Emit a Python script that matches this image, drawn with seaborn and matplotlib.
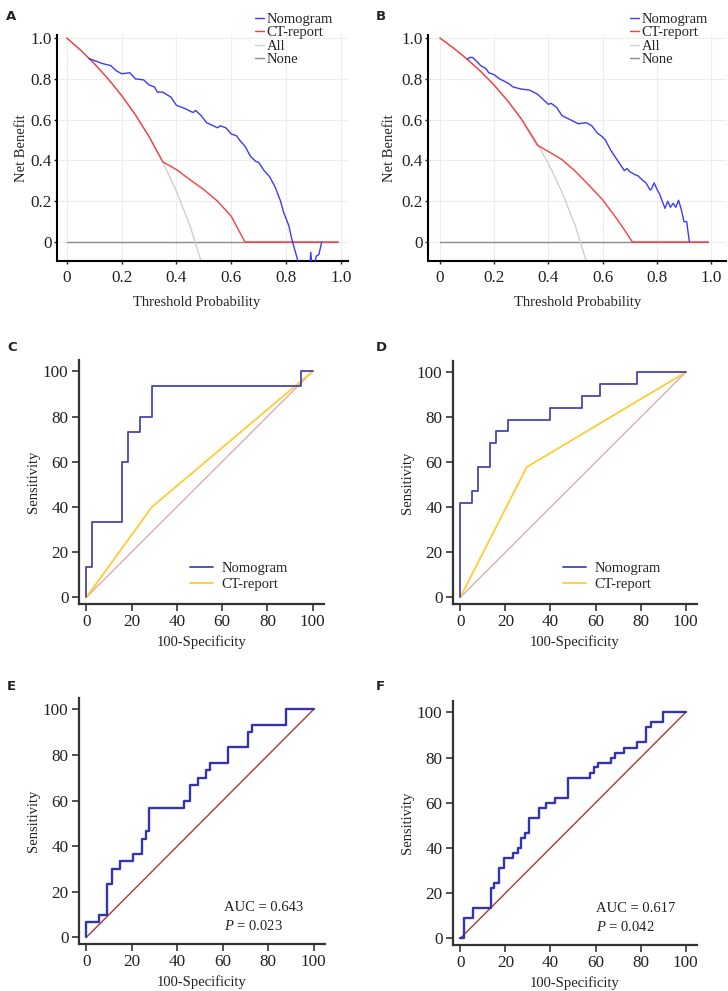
import numpy as np
import pandas as pd
import seaborn as sns
import matplotlib
matplotlib.use("Agg")
import matplotlib.pyplot as plt
from matplotlib.ticker import FuncFormatter

sns.set_theme(style="white")
plt.rcParams["font.family"] = ["Liberation Serif", "DejaVu Serif"]
plt.rcParams["mathtext.fontset"] = "custom"
plt.rcParams["mathtext.rm"] = "Liberation Serif"
plt.rcParams["mathtext.it"] = "Liberation Serif:italic"

# ---------------- data ----------------
# decision curves, panel A
pt_all_a = [0, 0.05, 0.1, 0.15, 0.2, 0.25, 0.3, 0.35, 0.4, 0.45, 0.49]
nb_all_a = [1.0, 0.941, 0.875, 0.801, 0.718, 0.624, 0.517, 0.393, 0.248, 0.077, -0.095]
pt_ct_a = [0, 0.05, 0.1, 0.15, 0.2, 0.25, 0.3, 0.35, 0.4, 0.45, 0.5, 0.55, 0.6, 0.65, 0.99]
nb_ct_a = [1.0, 0.941, 0.875, 0.801, 0.718, 0.624, 0.517, 0.393, 0.355, 0.305, 0.257, 0.20, 0.126, 0.0, 0.0]
pt_nomo_a = [0.08, 0.10, 0.13, 0.16, 0.18, 0.20, 0.23, 0.25, 0.28, 0.30, 0.32, 0.33, 0.35, 0.38,
             0.40, 0.43, 0.46, 0.47, 0.49, 0.51, 0.55, 0.56, 0.58, 0.60, 0.62, 0.63, 0.65, 0.67,
             0.69, 0.70, 0.72, 0.74, 0.76, 0.78, 0.79, 0.81, 0.82, 0.83, 0.845, 0.87, 0.885,
             0.89, 0.895, 0.905, 0.91, 0.92, 0.93]
nb_nomo_a = [0.90, 0.89, 0.875, 0.865, 0.84, 0.825, 0.83, 0.80, 0.795, 0.77, 0.76, 0.735, 0.735, 0.71,
             0.67, 0.655, 0.635, 0.645, 0.62, 0.585, 0.56, 0.57, 0.56, 0.53, 0.52, 0.50, 0.47, 0.42,
             0.395, 0.39, 0.35, 0.32, 0.27, 0.20, 0.15, 0.08, 0.02, -0.03, -0.10, -0.20, -0.15,
             -0.05, -0.12, -0.10, -0.07, -0.06, 0.0]

# decision curves, panel B
pt_all_b = [0, 0.05, 0.1, 0.15, 0.2, 0.25, 0.3, 0.35, 0.4, 0.45, 0.5, 0.54]
nb_all_b = [1.0, 0.951, 0.897, 0.837, 0.769, 0.692, 0.604, 0.503, 0.385, 0.245, 0.077, -0.095]
pt_ct_b = [0, 0.05, 0.1, 0.15, 0.2, 0.25, 0.3, 0.36, 0.4, 0.45, 0.5, 0.55, 0.6, 0.65, 0.68, 0.71, 0.99]
nb_ct_b = [1.0, 0.951, 0.897, 0.837, 0.769, 0.692, 0.604, 0.474, 0.444, 0.404, 0.346, 0.278, 0.207,
           0.118, 0.06, 0.0, 0.0]
pt_nomo_b = [0.10, 0.11, 0.12, 0.14, 0.15, 0.17, 0.18, 0.20, 0.22, 0.25, 0.27, 0.30, 0.33, 0.36,
             0.38, 0.40, 0.41, 0.43, 0.45, 0.48, 0.51, 0.54, 0.56, 0.58, 0.60, 0.61, 0.63, 0.65,
             0.67, 0.68, 0.69, 0.70, 0.72, 0.73, 0.75, 0.76, 0.775, 0.78, 0.79, 0.80, 0.81, 0.82,
             0.83, 0.84, 0.85, 0.86, 0.87, 0.88, 0.89, 0.90, 0.91, 0.92]
nb_nomo_b = [0.895, 0.905, 0.905, 0.88, 0.865, 0.85, 0.83, 0.82, 0.80, 0.78, 0.76, 0.75, 0.745, 0.725,
             0.70, 0.675, 0.68, 0.66, 0.62, 0.60, 0.58, 0.585, 0.57, 0.535, 0.515, 0.50, 0.45, 0.41,
             0.37, 0.35, 0.36, 0.345, 0.33, 0.325, 0.30, 0.29, 0.255, 0.26, 0.29, 0.26, 0.235, 0.20,
             0.165, 0.20, 0.17, 0.19, 0.17, 0.205, 0.16, 0.10, 0.10, 0.0]
pt_none = [0, 0.99]
nb_none = [0, 0]

# ROC curves, panel C
fpr_nomo_c = [0, 0, 2.5, 2.5, 15.8, 15.8, 18.5, 18.5, 23.6, 23.6, 29, 29, 94.7, 94.7, 100]
tpr_nomo_c = [0, 13.3, 13.3, 33.3, 33.3, 60, 60, 73.3, 73.3, 80, 80, 93.3, 93.3, 100, 100]
fpr_ct_c = [0, 29, 100]
tpr_ct_c = [0, 40, 100]

# ROC curves, panel D
fpr_nomo_d = [0, 0, 5.3, 5.3, 8, 8, 13.3, 13.3, 16, 16, 21.3, 21.3, 40, 40, 54.2, 54.2,
              62.2, 62.2, 78.5, 78.5, 100]
tpr_nomo_d = [0, 42.1, 42.1, 47.4, 47.4, 57.9, 57.9, 68.4, 68.4, 73.7, 73.7, 78.9, 78.9, 84.2,
              84.2, 89.5, 89.5, 94.7, 94.7, 100, 100]
fpr_ct_d = [0, 29.5, 100]
tpr_ct_d = [0, 57.9, 100]

# ROC curves, panel E
fpr_e = [0, 0, 5.5, 5.5, 9.3, 9.3, 11.5, 11.5, 15, 15, 20.7, 20.7, 24.5, 24.5, 26.3, 26.3,
         27.8, 27.8, 43.2, 43.2, 45.5, 45.5, 49, 49, 52.8, 52.8, 54.5, 54.5, 62.2, 62.2,
         71.3, 71.3, 73, 73, 88, 88, 100]
tpr_e = [0, 6.7, 6.7, 10, 10, 23.3, 23.3, 30, 30, 33.3, 33.3, 36.7, 36.7, 43.3, 43.3, 46.7,
         46.7, 56.7, 56.7, 60, 60, 66.7, 66.7, 70, 70, 73.3, 73.3, 76.7, 76.7, 83.3,
         83.3, 90, 90, 93.3, 93.3, 100, 100]

# ROC curves, panel F
fpr_f = [0, 1.5, 1.5, 5.6, 5.6, 13.6, 13.6, 15.2, 15.2, 17.3, 17.3, 19.3, 19.3, 23.5, 23.5,
         25.5, 25.5, 26.8, 26.8, 28.7, 28.7, 30.4, 30.4, 34.8, 34.8, 38, 38, 42, 42, 48, 48,
         57.5, 57.5, 59.5, 59.5, 61.2, 61.2, 67, 67, 68.8, 68.8, 72.6, 72.6, 78.5, 78.5,
         82.2, 82.2, 84.5, 84.5, 90, 90, 100]
tpr_f = [0, 0, 8.9, 8.9, 13.3, 13.3, 22.2, 22.2, 24.4, 24.4, 31.1, 31.1, 35.6, 35.6, 37.8,
         37.8, 40, 40, 44.4, 44.4, 46.7, 46.7, 53.3, 53.3, 57.8, 57.8, 60, 60, 62.2, 62.2, 71.1,
         71.1, 73.3, 73.3, 75.6, 75.6, 77.8, 77.8, 80, 80, 82.2, 82.2, 84.4, 84.4, 86.7,
         86.7, 93.3, 93.3, 95.6, 95.6, 100, 100]

ref_x = [0, 100]
ref_y = [0, 100]
auc_text = ["AUC = 0.643", "AUC = 0.617"]
p_text = ["$P$ = 0.023", "$P$ = 0.042"]

# ---------------- figure ----------------
W, H = 728, 991
fig = plt.figure(figsize=(W / 100, H / 100), dpi=100)
FS = 10.5      # labels, legends, annotations
TFS = 12.3     # tick labels


def px_axes(l, t, r, b):
    return fig.add_axes([l / W, 1 - b / H, (r - l) / W, (b - t) / H])


def fmt(v, _):
    return "0" if abs(v) < 1e-9 else f"{v:.1f}"


def line(ax, x, y, color, lw, label=None, z=2):
    sns.lineplot(x=x, y=y, ax=ax, color=color, lw=lw, label=label,
                 sort=False, estimator=None, zorder=z)


def dca_panel(box, xlim, all_x, all_y, ct_x, ct_y, nomo_x, nomo_y, leg_xy, ylabpad, xlab_c):
    ax = px_axes(*box)
    line(ax, pt_none, nb_none, "#8c8c8c", 1.0, "None", 1)
    line(ax, all_x, all_y, "#cfcfcf", 1.0, "All", 2)
    line(ax, ct_x, ct_y, "#ff3b3b", 1.0, "CT-report", 3)
    line(ax, nomo_x, nomo_y, "#3a3aff", 1.0, "Nomogram", 4)
    ax.set_xlim(*xlim)
    ax.set_ylim(-0.093, 1.015)
    ax.set_xticks([0, 0.2, 0.4, 0.6, 0.8, 1.0])
    ax.set_yticks([0, 0.2, 0.4, 0.6, 0.8, 1.0])
    ax.xaxis.set_major_formatter(FuncFormatter(fmt))
    ax.yaxis.set_major_formatter(FuncFormatter(fmt))
    ax.grid(True, color="#ededed", lw=0.8)
    ax.set_axisbelow(True)
    for s in ["top", "right"]:
        ax.spines[s].set_visible(False)
    for s in ["left", "bottom"]:
        ax.spines[s].set_color("black")
        ax.spines[s].set_linewidth(1.5)
    ax.tick_params(direction="out", length=2.5, width=1, color="#222222",
                   labelsize=TFS, labelcolor="#222222", left=True, bottom=True)
    ax.tick_params(axis="y", pad=1.2)
    ax.tick_params(axis="x", pad=4)
    ax.set_xlabel("Threshold Probability", fontsize=FS, color="#222222", labelpad=5)
    ax.xaxis.set_label_coords((xlab_c - box[0]) / (box[2] - box[0]), -0.155)
    ax.set_ylabel("Net Benefit", fontsize=FS, color="#222222", labelpad=ylabpad)
    h, l = ax.get_legend_handles_labels()
    order = [l.index(n) for n in ["Nomogram", "CT-report", "All", "None"]]
    ax.legend([h[i] for i in order], [l[i] for i in order], loc="upper left",
              bbox_to_anchor=(leg_xy[0] / W, 1 - leg_xy[1] / H), bbox_transform=fig.transFigure,
              frameon=False, fontsize=FS, handlelength=0.6, handletextpad=0.2,
              labelspacing=0.0, borderpad=0, borderaxespad=0)
    return ax


def roc_panel(box, ylabpad):
    ax = px_axes(*box)
    ax.set_xlim(-3.2, 105)
    ax.set_ylim(-2.9, 105)
    ax.set_xticks(range(0, 101, 20))
    ax.set_yticks(range(0, 101, 20))
    for s in ["top", "right"]:
        ax.spines[s].set_visible(False)
    for s in ["left", "bottom"]:
        ax.spines[s].set_color("#333333")
        ax.spines[s].set_linewidth(1.6)
    ax.tick_params(direction="out", length=5, width=1.2, color="#333333",
                   labelsize=TFS, labelcolor="#222222", pad=2.5, left=True, bottom=True)
    ax.set_xlabel("100-Specificity", fontsize=FS, color="#222222", labelpad=3.5)
    ax.set_ylabel("Sensitivity", fontsize=FS, color="#222222", labelpad=ylabpad)
    return ax


# panel A / B
dca_panel((57, 35, 348, 261), (-0.036, 1.026), pt_all_a, nb_all_a, pt_ct_a, nb_ct_a,
          pt_nomo_a, nb_nomo_a, (255, 13), 1.5, 197)
dca_panel((428, 35, 726, 261), (-0.044, 1.055), pt_all_b, nb_all_b, pt_ct_b, nb_ct_b,
          pt_nomo_b, nb_nomo_b, (630, 13), 4, 578)

# panel C / D
for box, fx, fy, cx, cy, lx in [((79, 360, 324, 604), fpr_nomo_c, tpr_nomo_c, fpr_ct_c, tpr_ct_c, 190),
                                ((453, 361, 697, 604), fpr_nomo_d, tpr_nomo_d, fpr_ct_d, tpr_ct_d, 563)]:
    ax = roc_panel(box, 2)
    line(ax, ref_x, ref_y, "#d9a8a8", 0.9, None, 1)
    line(ax, cx, cy, "#ffcc33", 1.3, "CT-report", 2)
    line(ax, fx, fy, "#4646b4", 1.3, "Nomogram", 3)
    h, l = ax.get_legend_handles_labels()
    ax.legend(h[::-1], l[::-1], loc="upper left",
              bbox_to_anchor=(lx / W, 1 - 562 / H), bbox_transform=fig.transFigure,
              frameon=False, fontsize=FS, handlelength=1.6, handletextpad=0.55,
              labelspacing=0.2, borderpad=0, borderaxespad=0)

# panel E / F
for box, fx, fy, auc, pv, tx in [((79, 698, 325, 944), fpr_e, tpr_e, auc_text[0], p_text[0], 60.5),
                                 ((453, 701, 697, 945), fpr_f, tpr_f, auc_text[1], p_text[1], 60)]:
    ax = roc_panel(box, 2)
    line(ax, ref_x, ref_y, "#a83a32", 1.0, None, 1)
    line(ax, fx, fy, "#3434b0", 1.7, None, 2)
    ax.text(tx, 13.2, auc, fontsize=FS, color="#222222", va="center")
    ax.text(tx, 5.0, pv, fontsize=FS, color="#222222", va="center")

# panel letters
for letter, x, y in [("A", 11, 17), ("B", 381, 17), ("C", 12, 347),
                     ("D", 381, 347), ("E", 11, 687), ("F", 380, 687)]:
    fig.text(x / W, 1 - y / H, letter, fontsize=9.5, fontweight="bold",
             family="DejaVu Sans", ha="center", va="center", color="#222222")

fig.savefig("out.png", dpi=100)
